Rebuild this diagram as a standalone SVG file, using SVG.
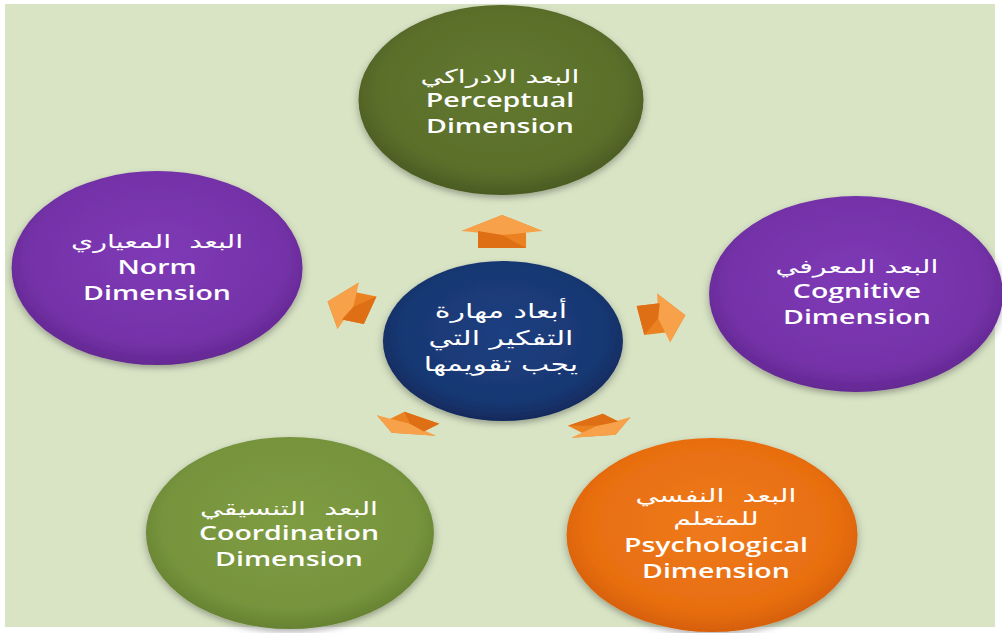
<svg xmlns="http://www.w3.org/2000/svg" xmlns:xlink="http://www.w3.org/1999/xlink" width="1002" height="633" viewBox="0 0 1002 633">
<defs>
<style>
.en{font-family:"Open Sans","Liberation Sans",sans-serif;font-size:19px;font-weight:600;fill:#ffffff;text-anchor:middle}
.ar{font-family:"DejaVu Sans","Noto Sans",sans-serif;font-size:19px;fill:#ffffff;text-anchor:middle}
.arc{font-family:"DejaVu Sans","Noto Sans",sans-serif;font-size:20px;fill:#ffffff;text-anchor:middle}
</style>
<filter id="sh" x="-20%" y="-20%" width="140%" height="140%">
<feDropShadow dx="0" dy="3" stdDeviation="3" flood-color="#000" flood-opacity="0.3"/>
</filter>
<radialGradient id="gOlive" cx="50%" cy="45%" r="55%">
<stop offset="0" stop-color="#62792f"/><stop offset="0.8" stop-color="#5a6e2b"/><stop offset="1" stop-color="#4a5b22"/>
</radialGradient>
<radialGradient id="gPurple" cx="50%" cy="45%" r="55%">
<stop offset="0" stop-color="#7f3ab6"/><stop offset="0.8" stop-color="#7432a8"/><stop offset="1" stop-color="#642892"/>
</radialGradient>
<radialGradient id="gGreen" cx="50%" cy="45%" r="55%">
<stop offset="0" stop-color="#7e9c42"/><stop offset="0.8" stop-color="#77943d"/><stop offset="1" stop-color="#668232"/>
</radialGradient>
<radialGradient id="gOrange" cx="50%" cy="45%" r="55%">
<stop offset="0" stop-color="#ef7a1c"/><stop offset="0.8" stop-color="#e86e10"/><stop offset="1" stop-color="#d65f08"/>
</radialGradient>
<radialGradient id="gNavy" cx="50%" cy="45%" r="55%">
<stop offset="0" stop-color="#1d3f80"/><stop offset="0.8" stop-color="#183772"/><stop offset="1" stop-color="#112a5c"/>
</radialGradient>
<g id="arr">
<polygon points="0,-17 27,-1 16,-1 16,16 -16,16 -16,-1 -27,-1" fill="#ea8222"/>
<polygon points="0,-17 27,-1 0,3 -27,-1" fill="#f7a24b"/>
<polygon points="-16,-1 0,3 16,16 -16,16" fill="#de6f14"/>
</g>
</defs>
<rect x="0" y="0" width="1002" height="633" fill="#ffffff"/>
<rect x="5" y="4" width="990" height="623" fill="#d9e4c5"/>
<g transform="scale(1.5,1)">
<g id="connectors">
<use xlink:href="#arr" transform="translate(334.7,232)"/>
<use xlink:href="#arr" transform="translate(233,306) rotate(-73) scale(0.9)"/>
<use xlink:href="#arr" transform="translate(441.5,318) rotate(80) scale(0.92)"/>
<use xlink:href="#arr" transform="translate(271.5,425) scale(1,0.62) rotate(-140) scale(0.95)"/>
<use xlink:href="#arr" transform="translate(400,427) scale(1,0.62) rotate(140) scale(0.95)"/>
</g>
<g id="node-center">
<circle cx="335.3" cy="341" r="80" fill="url(#gNavy)" filter="url(#sh)"/>
<text class="arc" x="334" y="318">أبعاد مهارة</text>
<text class="arc" x="334" y="345">التفكير التي</text>
<text class="arc" x="334" y="371">يجب تقويمها</text>
</g>
<g id="node-perceptual">
<circle cx="334" cy="100" r="95" fill="url(#gOlive)" filter="url(#sh)"/>
<text class="ar" x="333.3" y="83">البعد الادراكي</text>
<text class="en" x="333.3" y="107">Perceptual</text>
<text class="en" x="333.3" y="133">Dimension</text>
</g>
<g id="node-norm">
<circle cx="104.7" cy="268" r="97" fill="url(#gPurple)" filter="url(#sh)"/>
<text class="ar" x="104.7" y="248" xml:space="preserve">البعد  المعياري</text>
<text class="en" x="104.7" y="274">Norm</text>
<text class="en" x="104.7" y="300">Dimension</text>
</g>
<g id="node-cognitive">
<circle cx="570.7" cy="294" r="98" fill="url(#gPurple)" filter="url(#sh)"/>
<text class="ar" x="571.3" y="273">البعد المعرفي</text>
<text class="en" x="571.3" y="298">Cognitive</text>
<text class="en" x="571.3" y="324">Dimension</text>
</g>
<g id="node-coordination">
<circle cx="193.3" cy="533" r="96" fill="url(#gGreen)" filter="url(#sh)"/>
<text class="ar" x="192.7" y="515" xml:space="preserve">البعد  التنسيقي</text>
<text class="en" x="192.7" y="540">Coordination</text>
<text class="en" x="192.7" y="566">Dimension</text>
</g>
<g id="node-psychological">
<circle cx="474.7" cy="535" r="97" fill="url(#gOrange)" filter="url(#sh)"/>
<text class="ar" x="477.3" y="502" xml:space="preserve">البعد  النفسي</text>
<text class="ar" x="477.3" y="525">للمتعلم</text>
<text class="en" x="477.3" y="552">Psychological</text>
<text class="en" x="477.3" y="578">Dimension</text>
</g>
</g>
</svg>
